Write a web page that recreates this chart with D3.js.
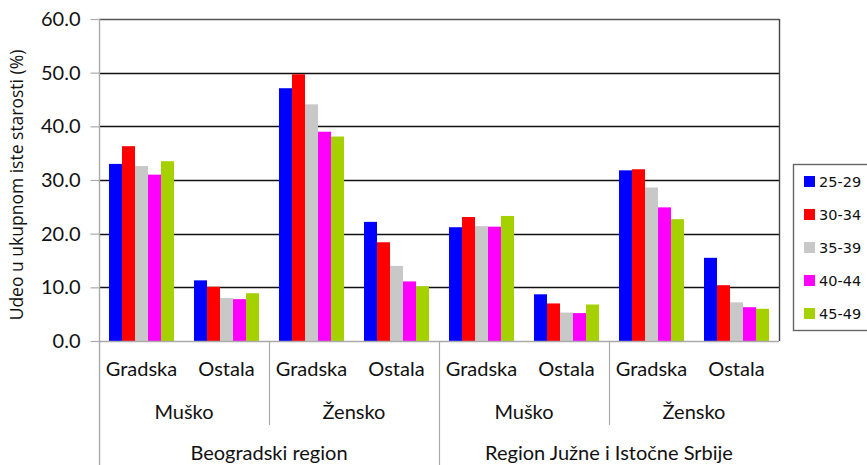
<!DOCTYPE html>
<html>
<head>
<meta charset="utf-8">
<script src="https://cdn.jsdelivr.net/npm/d3@7"></script>
<style>
  body { margin: 0; background: #fff; }
  svg { display: block; }
  .lbl { font-family: Lato, "Open Sans", sans-serif; fill: #111; }
  .leg { font-family: "DejaVu Sans", sans-serif; font-size: 14.5px; fill: #111; }
</style>
</head>
<body>
<svg id="chart" width="867" height="465"></svg>
<script>
// category levels
const regions = ["Beogradski region", "Region Južne i Istočne Srbije"]
const sexes = ["Muško", "Žensko"]
const places = ["Gradska", "Ostala"]
const ageGroups = ["25-29", "30-34", "35-39", "40-44", "45-49"]
const colors = ["#0000ff", "#ff0000", "#c8c8c8", "#ff00ff", "#a6d100"]
const yTicks = [0, 10, 20, 30, 40, 50, 60]

// values per age group, in category order (region > sex > place)
const s2529 = [33.0, 11.3, 47.1, 22.2, 21.2, 8.7, 31.8, 15.5]
const s3034 = [36.3, 10.1, 49.7, 18.4, 23.1, 7.0, 32.0, 10.4]
const s3539 = [32.6, 8.0, 44.1, 14.0, 21.4, 5.3, 28.6, 7.2]
const s4044 = [31.0, 7.8, 39.0, 11.1, 21.3, 5.2, 24.9, 6.3]
const s4549 = [33.5, 8.9, 38.1, 10.2, 23.3, 6.8, 22.7, 6.0]
const series = [s2529, s3034, s3539, s4044, s4549]

const M = { left: 99, right: 779, top: 19, bottom: 341 }

const cats = []
regions.forEach((r, ri) => sexes.forEach((s, si) => places.forEach((p, pi) => {
  cats.push({ id: `${ri}-${si}-${pi}`, region: r, sex: s, place: p })
})))

const svg = d3.select("#chart")

const x0 = d3.scaleBand().domain(cats.map(c => c.id)).range([M.left, M.right])
const x1 = d3.scaleBand().domain(ageGroups).range([0, x0.bandwidth()]).paddingOuter(0.77)
const y = d3.scaleLinear().domain([0, 60]).range([M.bottom, M.top])

// gridlines
svg.append("g").selectAll("line").data(yTicks.filter(t => t > 0)).join("line")
  .attr("x1", M.left).attr("x2", M.right)
  .attr("y1", d => Math.round(y(d)) + 0.5).attr("y2", d => Math.round(y(d)) + 0.5)
  .attr("stroke", d => d === 60 ? "#555" : "#111").attr("stroke-width", 1.4)

// right border of plot area
svg.append("line")
  .attr("x1", M.right + 0.5).attr("x2", M.right + 0.5)
  .attr("y1", M.top).attr("y2", M.bottom)
  .attr("stroke", "#444").attr("stroke-width", 1.4)

// bars
cats.forEach((c, ci) => {
  svg.append("g").attr("transform", `translate(${x0(c.id)},0)`)
    .selectAll("rect").data(ageGroups).join("rect")
    .attr("x", a => x1(a))
    .attr("width", x1.bandwidth())
    .attr("y", (a, i) => y(series[i][ci]))
    .attr("height", (a, i) => y(0) - y(series[i][ci]))
    .attr("fill", (a, i) => colors[i])
})

// y axis
const yAxis = svg.append("g").attr("transform", `translate(${M.left + 0.5},0)`)
  .call(d3.axisLeft(y).tickValues(yTicks).tickFormat(d3.format(".1f")).tickSize(9).tickPadding(10))
yAxis.select(".domain").remove()
yAxis.selectAll(".tick line").attr("stroke", "#aaa").attr("stroke-width", 1.2)
yAxis.selectAll(".tick text").attr("class", "lbl").style("font-size", "20px").attr("fill", "#111")

svg.append("line")
  .attr("x1", M.left + 0.5).attr("x2", M.left + 0.5)
  .attr("y1", M.top).attr("y2", 465)
  .attr("stroke", "#aaa").attr("stroke-width", 1.4)
svg.append("line")
  .attr("x1", M.left).attr("x2", M.right)
  .attr("y1", M.bottom + 0.5).attr("y2", M.bottom + 0.5)
  .attr("stroke", "#aaa").attr("stroke-width", 1.4)

svg.append("text")
  .attr("transform", "translate(23,185) rotate(-90)")
  .attr("text-anchor", "middle")
  .style("font-family", "'Open Sans', sans-serif")
  .style("font-size", "17.5px")
  .attr("fill", "#111")
  .text("Udeo u ukupnom iste starosti (%)")

// multi-level category axis
const step = x0.step()
svg.append("g").selectAll("text").data(cats).join("text")
  .attr("class", "lbl").style("font-size", "20px")
  .attr("text-anchor", "middle")
  .attr("x", c => x0(c.id) + step / 2)
  .attr("y", 376)
  .text(c => c.place)

const sexGroups = d3.groups(cats, c => c.id.slice(0, 3))
svg.append("g").selectAll("text").data(sexGroups).join("text")
  .attr("class", "lbl").style("font-size", "20px")
  .attr("text-anchor", "middle")
  .attr("x", g => x0(g[1][0].id) + step)
  .attr("y", 419)
  .text(g => g[1][0].sex)

const regionGroups = d3.groups(cats, c => c.region)
svg.append("g").selectAll("text").data(regionGroups).join("text")
  .attr("class", "lbl").style("font-size", "20px")
  .attr("text-anchor", "middle")
  .attr("x", g => x0(g[1][0].id) + step * 2)
  .attr("y", 460)
  .text(g => g[0])

// separators below the axis
const sepSex = sexGroups.map(g => x0(g[1][0].id)).filter((v, i) => i % 2 === 1)
svg.append("g").selectAll("line").data(sepSex).join("line")
  .attr("x1", d => Math.round(d) + 0.5).attr("x2", d => Math.round(d) + 0.5)
  .attr("y1", M.bottom).attr("y2", 425)
  .attr("stroke", "#aaa").attr("stroke-width", 1.2)
const sepRegion = regionGroups.map(g => x0(g[1][0].id)).slice(1)
svg.append("g").selectAll("line").data(sepRegion).join("line")
  .attr("x1", d => Math.round(d) + 0.5).attr("x2", d => Math.round(d) + 0.5)
  .attr("y1", M.bottom).attr("y2", 465)
  .attr("stroke", "#aaa").attr("stroke-width", 1.2)

// legend
const legend = svg.append("g").attr("transform", "translate(793,164)")
legend.append("rect").attr("x", 0.5).attr("y", 0.5).attr("width", 80).attr("height", 166)
  .attr("fill", "#fff").attr("stroke", "#666").attr("stroke-width", 1.4)
const legRows = legend.selectAll("g.row").data(ageGroups).join("g")
  .attr("class", "row")
  .attr("transform", (d, i) => `translate(11,${18 + i * 33})`)
legRows.append("rect").attr("x", 0).attr("y", -6).attr("width", 11).attr("height", 11)
  .attr("fill", (d, i) => colors[i])
legRows.append("text").attr("class", "leg").attr("x", 15).attr("y", 5).text(d => d)
</script>
</body>
</html>
